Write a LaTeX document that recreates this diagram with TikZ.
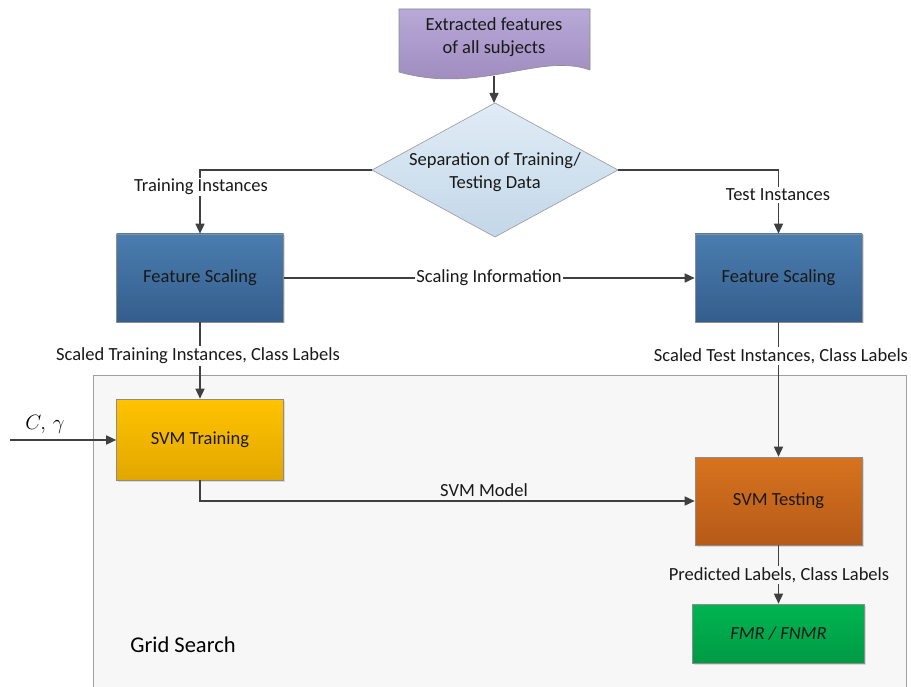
\documentclass[tikz,border=0pt]{standalone}
\usepackage{fontspec}
\setmainfont{Carlito}
\usetikzlibrary{arrows.meta,shapes.geometric,shadows}
\definecolor{linec}{HTML}{404040}
\definecolor{gridbg}{HTML}{F7F7F7}
\definecolor{gridln}{HTML}{A0A0A0}
\definecolor{docTop}{HTML}{B7A9D8}
\definecolor{docBot}{HTML}{9C86BA}
\definecolor{decTop}{HTML}{E0ECF6}
\definecolor{decBot}{HTML}{C3D7E8}
\definecolor{blueTop}{HTML}{4A7DB0}
\definecolor{blueBot}{HTML}{345E8C}
\definecolor{yelTop}{HTML}{FFC300}
\definecolor{yelBot}{HTML}{E2A700}
\definecolor{orTop}{HTML}{D7731F}
\definecolor{orBot}{HTML}{B65A18}
\definecolor{grTop}{HTML}{00B552}
\definecolor{grBot}{HTML}{009A44}
\tikzset{
  box/.style={draw=black!45, line width=0.6pt, minimum width=167pt, minimum height=88pt,
    inner sep=0pt, text=black!90, drop shadow={shadow xshift=1.5pt, shadow yshift=-1.5pt, opacity=0.25}},
  flow/.style={draw=linec, line width=1.5pt, -{Triangle[length=10pt,width=9pt]}},
  lbl/.style={fill=white, inner sep=1.5pt, text=black!90},
  txt/.style={font=\fontsize{18.5}{22.5}\selectfont}
}
\begin{document}
\begin{tikzpicture}[x=1pt,y=-1pt,every node/.style={txt}]
\useasboundingbox (0,0) rectangle (911,687);
\fill[white] (0,0) rectangle (911,687);

% grid search region
\draw[fill=gridbg, draw=gridln, line width=0.8pt] (93,695) -- (93,375) -- (906,375) -- (906,695);
\node[anchor=center, text=black] (gs) at (183,645) {\fontsize{22.5}{26}\selectfont Grid Search};

% document shape with wavy bottom
\coordinate (docbot) at (494,76);
\shade[top color=docTop, bottom color=docBot] (399,9) -- (590,9) -- (590,70)
  .. controls (540,52) and (480,95) .. (399,72) -- cycle;
\draw[black!45, line width=0.6pt] (399,9) -- (590,9) -- (590,70)
  .. controls (540,52) and (480,95) .. (399,72) -- cycle;
\node[align=center, text=black!90] (doc) at (494,37) {Extracted features\\of all subjects};

% decision diamond
\shade[top color=decTop, bottom color=decBot]
  (372,170) -- (495,103) -- (618,170) -- (495,237) -- cycle;
\draw[black!40, line width=0.6pt] (372,170) -- (495,103) -- (618,170) -- (495,237) -- cycle;
\coordinate (dtop) at (494,103);
\coordinate (dleft) at (372,170);
\coordinate (dright) at (618,170);
\node[align=center, text=black!90] (sep) at (495,172) {Separation of Training/\\Testing Data};

% process boxes
\node[box, top color=blueTop, bottom color=blueBot] (fsl) at (200,278) {Feature Scaling};
\node[box, top color=blueTop, bottom color=blueBot] (fsr) at (778.5,278) {Feature Scaling};
\node[box, minimum height=81pt, top color=yelTop, bottom color=yelBot] (svt) at (200,439.5) {SVM Training};
\node[box, top color=orTop, bottom color=orBot] (svm) at (778.5,501) {SVM Testing};
\node[box, minimum width=172pt, minimum height=59pt, top color=grTop, bottom color=grBot] (fmr) at (778.5,633.5) {\itshape FMR / FNMR};

% connectors
\draw[flow] (docbot) -- (dtop);
\draw[flow] (dleft) -| (fsl.north);
\draw[flow] (dright) -| (fsr.north);
\draw[flow] (fsl) -- (fsr);
\draw[flow] (fsl.south) -- (svt.north);
\draw[flow] (fsr.south) -- (svm.north);
\draw[flow] (svt.south) |- (svm.west);
\draw[flow] (svm.south) -- (fmr.north);
\coordinate (cin) at (10,440);
\draw[flow] (cin) -- (svt.west |- cin);

% connector labels
\node[lbl] (l1) at (201,187) {Training Instances};
\node[lbl] (l2) at (778,195) {Test Instances};
\node[lbl] (l3) at (489,278) {Scaling Information};
\node[lbl] (l4) at (198,356) {Scaled Training Instances, Class Labels};
\node[lbl] (l5) at (781,356) {Scaled Test Instances, Class Labels};
\node[text=black!90] (l6) at (484,490) {SVM Model};
\node[lbl, fill=gridbg] (l7) at (779,575) {Predicted Labels, Class Labels};
\node[font=\fontsize{21}{24}\selectfont] (cg) at (45,424) {$C,\,\gamma$};
\end{tikzpicture}
\end{document}
